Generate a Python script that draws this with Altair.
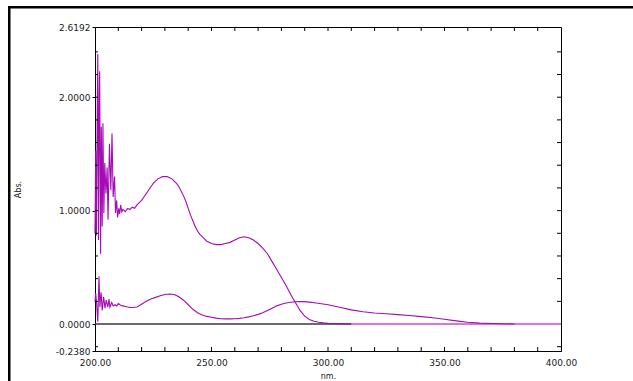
import altair as alt
import pandas as pd

# ---- data ----
wl_a = [200.0, 200.3, 200.6, 201.0, 201.2, 201.5, 201.8, 202.0, 202.4, 202.7, 203.1, 203.4,
        203.8, 204.2, 204.7, 205.2, 205.6, 206.2, 206.8, 207.3, 207.8, 208.4, 208.8, 209.3,
        209.7, 210.2, 210.6, 211.0, 211.5, 212.0, 213, 214, 215, 216, 217, 218, 219, 220,
        221, 222, 223, 224, 225, 226, 227, 228, 229, 230, 231, 232, 233, 234, 235, 236, 237,
        238, 239, 240, 241, 242, 243, 244, 245, 246, 247, 248, 249, 250, 252, 254, 256, 258,
        260, 262, 264, 266, 268, 270, 272, 274, 276, 278, 280, 282, 284, 286, 288, 290, 292,
        294, 296, 298, 300, 305, 310]
abs_a = [0.80, 1.53, 0.78, 1.94, 2.38, 0.74, 1.96, 2.23, 0.62, 1.74, 0.86, 1.77,
         0.98, 1.42, 1.15, 1.38, 0.92, 1.59, 1.18, 1.68, 1.12, 1.30, 0.98, 1.09,
         0.94, 1.02, 0.97, 1.05, 0.99, 1.01, 0.99, 1.02, 1.01, 1.03, 1.02, 1.05, 1.07, 1.09,
         1.12, 1.15, 1.18, 1.21, 1.24, 1.26, 1.28, 1.29, 1.30, 1.30, 1.30, 1.29, 1.28, 1.26, 1.24, 1.21, 1.17,
         1.13, 1.08, 1.02, 0.96, 0.91, 0.86, 0.82, 0.79, 0.77, 0.75, 0.73, 0.72, 0.71, 0.70, 0.70, 0.71, 0.72,
         0.74, 0.76, 0.77, 0.76, 0.74, 0.71, 0.67, 0.62, 0.55, 0.48, 0.41, 0.34, 0.26, 0.19, 0.12, 0.07, 0.04,
         0.025, 0.016, 0.01, 0.006, 0.003, 0.0]

wl_b = [200.0, 200.3, 200.7, 201.2, 201.7, 202.1, 202.6, 203.1, 203.7, 204.3, 204.8, 205.5,
        206.0, 206.4, 207.2, 207.8, 208.6, 209.3, 210.0, 211, 212, 213, 214, 215, 216, 218,
        220, 222, 224, 226, 228, 230, 232, 234, 236, 238, 240, 242, 244, 246, 248, 250, 252,
        254, 256, 258, 260, 262, 264, 266, 268, 270, 272, 274, 276, 278, 280, 282, 284, 286,
        288, 290, 292, 295, 300, 305, 310, 315, 320, 325, 330, 335, 340, 345, 350, 355, 360,
        365, 370, 375, 380]
abs_b = [0.20, 0.27, 0.18, 0.02, 0.42, 0.15, 0.28, 0.12, 0.24, 0.14, 0.21, 0.15,
         0.22, 0.15, 0.19, 0.16, 0.17, 0.16, 0.18, 0.165, 0.16, 0.155, 0.15, 0.147, 0.145, 0.15,
         0.175, 0.20, 0.22, 0.235, 0.25, 0.26, 0.265, 0.26, 0.24, 0.21, 0.17, 0.13, 0.10, 0.08, 0.067, 0.06, 0.052,
         0.047, 0.045, 0.045, 0.047, 0.05, 0.055, 0.063, 0.073, 0.085, 0.10, 0.12, 0.14, 0.16, 0.175, 0.185, 0.192, 0.196,
         0.198, 0.197, 0.193, 0.185, 0.17, 0.148, 0.125, 0.108, 0.097, 0.09, 0.083, 0.075, 0.065, 0.055, 0.042, 0.028, 0.016,
         0.008, 0.004, 0.002, 0.0]

base_black_wl = [200, 310]
base_black_abs = [0, 0]
base_mag_wl = [310, 400]
base_mag_abs = [0, 0]

x_labels = [200, 250, 300, 350, 400]
y_labels = [2.6192, 2.0, 1.0, 0.0, -0.238]
x_minor = [210, 220, 230, 240, 250, 260, 270, 280, 290, 300, 310, 320, 330, 340, 350,
           360, 370, 380, 390]
y_minor = [-0.2, 0.2, 0.4, 0.6, 0.8, 1.0, 1.2, 1.4, 1.6, 1.8, 2.0, 2.2, 2.4]

W, H = 466, 324
FONT = "DejaVu Sans"
PURPLE = "#a20cb2"

xs = alt.Scale(domain=[200, 400], nice=False, zero=False)
ys = alt.Scale(domain=[-0.238, 2.6192], nice=False, zero=False)

x_axis = alt.Axis(values=x_labels, format=".2f", tickSize=0, labelPadding=7, grid=False,
                  title="nm.", titleY=25, titleBaseline="middle", titleFont=FONT,
                  titleFontSize=8, titleFontWeight="normal", titleColor="#222",
                  labelFont=FONT, labelFontSize=9, labelColor="#222",
                  domainColor="#000", labelFlush=False)
y_axis = alt.Axis(values=y_labels,
                  labelExpr="datum.value < 0 ? '-' + format(-datum.value, '.4f') : format(datum.value, '.4f')",
                  tickSize=3, tickColor="#000", labelPadding=2, grid=False,
                  title="Abs.", titleAngle=270, titleX=-77, titleY=H / 2,
                  titleAlign="center", titleBaseline="middle", titleFont=FONT,
                  titleFontSize=8, titleFontWeight="normal", titleColor="#222",
                  labelFont=FONT, labelFontSize=9, labelColor="#222",
                  domainColor="#000", labelFlush=False)

df_a = pd.DataFrame({"wl": wl_a, "abs": abs_a, "i": range(len(wl_a))})
df_b = pd.DataFrame({"wl": wl_b, "abs": abs_b, "i": range(len(wl_b))})
df_k = pd.DataFrame({"wl": base_black_wl, "abs": base_black_abs})
df_m = pd.DataFrame({"wl": base_mag_wl, "abs": base_mag_abs})

X = alt.X("wl:Q", scale=xs, axis=x_axis)
Y = alt.Y("abs:Q", scale=ys, axis=y_axis)

base_mag = alt.Chart(df_m).mark_line(color="#c848d6", strokeWidth=1.3).encode(x=X, y=Y)
base_blk = alt.Chart(df_k).mark_line(color="#3a3a3a", strokeWidth=1.3).encode(x=X, y=Y)
line_a = alt.Chart(df_a).mark_line(color=PURPLE, strokeWidth=1.1).encode(x=X, y=Y, order="i:Q")
line_b = alt.Chart(df_b).mark_line(color=PURPLE, strokeWidth=1.1).encode(x=X, y=Y, order="i:Q")

df_xm = pd.DataFrame({"wl": x_minor})
df_ym = pd.DataFrame({"abs": y_minor})
tick_bot = alt.Chart(df_xm).mark_rule(color="#000", strokeWidth=1).encode(
    x=X, y=alt.value(H), y2=alt.value(H - 4))
tick_top = alt.Chart(df_xm).mark_rule(color="#000", strokeWidth=1).encode(
    x=X, y=alt.value(0), y2=alt.value(4))
tick_left = alt.Chart(df_ym).mark_rule(color="#000", strokeWidth=1).encode(
    y=Y, x=alt.value(0), x2=alt.value(3))
tick_right = alt.Chart(df_ym).mark_rule(color="#000", strokeWidth=1).encode(
    y=Y, x=alt.value(W), x2=alt.value(W - 4))

# outer picture frame: filled bars along the top and left edges (separate data rows)
frame_top = alt.Chart(pd.DataFrame({"edge": ["top"]})).mark_rect(fill="#000", strokeWidth=0).encode(
    x=alt.value(-87), x2=alt.value(540), y=alt.value(-21), y2=alt.value(-18.5))
frame_left = alt.Chart(pd.DataFrame({"edge": ["left"]})).mark_rect(fill="#000", strokeWidth=0).encode(
    x=alt.value(-87), x2=alt.value(-84.5), y=alt.value(-21), y2=alt.value(356))

chart = alt.layer(
    base_mag, base_blk, line_b, line_a,
    tick_bot, tick_top, tick_left, tick_right,
    frame_top, frame_left,
).properties(
    width=W, height=H,
    autosize=alt.AutoSizeParams(type="none"),
    padding={"left": 95, "top": 27, "right": 72, "bottom": 30},
    background="white",
).configure_view(stroke="#000", strokeWidth=1)

chart.save("out.html", embed_options={"renderer": "svg", "actions": False})
